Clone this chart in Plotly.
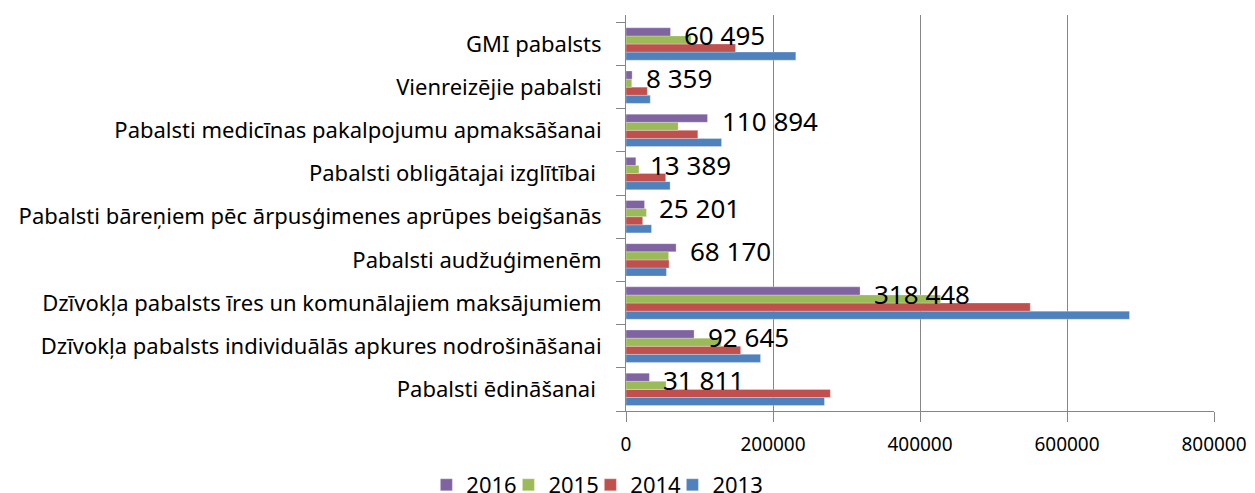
import plotly.graph_objects as go

# kategorijas (no augšas uz leju)
categories = [
    "GMI pabalsts",
    "Vienreizējie pabalsti",
    "Pabalsti medicīnas pakalpojumu apmaksāšanai",
    "Pabalsti obligātajai izglītībai\u00a0",
    "Pabalsti bāreņiem pēc ārpusģimenes aprūpes beigšanās",
    "Pabalsti audžuģimenēm",
    "Dzīvokļa pabalsts īres un komunālajiem maksājumiem",
    "Dzīvokļa pabalsts individuālās apkures nodrošināšanai",
    "Pabalsti ēdināšanai\u00a0",
]

years = ["2013", "2014", "2015", "2016"]
values_2013 = [231000, 33000, 130000, 60000, 34700, 55000, 685000, 183000, 270000]
values_2014 = [149000, 29000, 97700, 54000, 22700, 58500, 550000, 156000, 278000]
values_2015 = [88600, 7800, 71000, 17600, 27800, 58000, 428000, 129000, 54500]
values_2016 = [60495, 8359, 110894, 13389, 25201, 68170, 318448, 92645, 31811]

x_ticks = [0, 200000, 400000, 600000, 800000]

colors = {
    "2013": "#4F81BD",
    "2014": "#C0504D",
    "2015": "#9BBB59",
    "2016": "#8064A2",
}

series = {
    "2013": values_2013,
    "2014": values_2014,
    "2015": values_2015,
    "2016": values_2016,
}

# katram gadam sava leģenda, lai ierakstus var novietot tuvāk
legend_ids = {"2016": "legend", "2015": "legend2", "2014": "legend3", "2013": "legend4"}
legend_x = {"2016": 0.3355, "2015": 0.4013, "2014": 0.4670, "2013": 0.5328}

fig = go.Figure()

for y in years:
    fig.add_trace(go.Bar(
        y=categories,
        x=series[y],
        name=y,
        orientation="h",
        legend=legend_ids[y],
        marker=dict(color=colors[y], line=dict(color="rgba(255,255,255,0.45)", width=0.6)),
    ))

# datu etiķetes 2016. gadam
for cat, v in zip(categories, values_2016):
    fig.add_annotation(
        x=v, y=cat,
        text=f"{v:,}".replace(",", " "),
        showarrow=False,
        xanchor="left", yanchor="middle",
        xshift=12, yshift=9,
        font=dict(size=26, color="black", family="Noto Sans"),
    )

legend_style = dict(
    xref="container", yref="container",
    xanchor="left", yanchor="middle",
    y=0.0165,
    font=dict(size=22),
    itemwidth=30,
    bgcolor="rgba(0,0,0,0)",
)

# lapai ir 8px noklusētā atkāpe, tāpēc attēls ir par 8px mazāks
fig.update_layout(
    width=1247, height=485,
    margin=dict(l=618, r=41, t=7, b=82, autoexpand=False),
    plot_bgcolor="white",
    paper_bgcolor="white",
    barmode="group",
    bargap=0.25,
    bargroupgap=0,
    font=dict(family="Noto Sans", size=22, color="black"),
    showlegend=True,
    legend=dict(x=legend_x["2016"], **legend_style),
    legend2=dict(x=legend_x["2015"], **legend_style),
    legend3=dict(x=legend_x["2014"], **legend_style),
    legend4=dict(x=legend_x["2013"], **legend_style),
)

fig.update_xaxes(
    range=[0, 800000],
    tickvals=x_ticks,
    ticktext=[str(t) for t in x_ticks],
    showgrid=True, gridcolor="#868686", gridwidth=1,
    showline=True, linecolor="#868686", linewidth=1,
    ticks="outside", ticklen=10, tickcolor="#868686",
    tickfont=dict(size=19),
    ticklabelstandoff=6,
    zeroline=False,
    automargin=False,
)

fig.update_yaxes(
    categoryorder="array",
    categoryarray=list(reversed(categories)),
    showline=True, linecolor="#868686", linewidth=1,
    ticks="outside", ticklen=9, tickcolor="#868686",
    tickson="boundaries",
    ticklabelstandoff=19,
    tickfont=dict(size=22),
    showgrid=False,
    automargin=False,
)

fig.write_html("out.html")
